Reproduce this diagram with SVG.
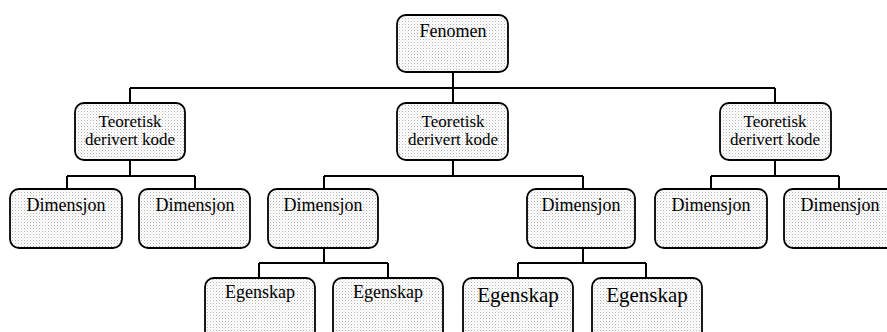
<svg xmlns="http://www.w3.org/2000/svg" width="887" height="332" viewBox="0 0 887 332">
  <defs>
    <!-- stippled grey fill used inside every box -->
    <pattern id="dots" width="3" height="3" patternUnits="userSpaceOnUse">
      <rect width="3" height="3" fill="#ffffff"/>
      <rect x="0" y="0" width="1" height="1" fill="#b4b4b4"/>
      <rect x="1.5" y="1.5" width="1" height="1" fill="#d6d6d6"/>
    </pattern>
  </defs>
  <style>
    .box { fill: url(#dots); stroke: #000; stroke-width: 1.8; }
    .conn { fill: none; stroke: #000; stroke-width: 2; }
    text { font-family: "Times New Roman", "Liberation Serif", "DejaVu Serif", serif; }
  </style>

  <rect width="887" height="332" fill="#ffffff"/>

  <!-- connectors -->
  <g id="connectors" class="conn">
    <path d="M453 72 V88 M130 88 H775 M130 88 V103 M453 88 V103 M775 88 V103"/>
    <path d="M130 160 V176 M67 176 H195 M67 176 V189 M195 176 V189"/>
    <path d="M453 160 V176 M324 176 H583 M324 176 V189 M583 176 V189"/>
    <path d="M775 160 V176 M711 176 H839 M711 176 V189 M839 176 V189"/>
    <path d="M324 248 V263 M259 263 H388 M259 263 V278 M388 263 V278"/>
    <path d="M583 248 V263 M518 263 H646 M518 263 V278 M646 263 V278"/>
  </g>

  <g font-size="18" text-anchor="middle" fill="#000">
    <g id="fenomen">
      <rect class="box" x="397" y="15" width="111" height="57" rx="9"/>
      <text x="453" y="37">Fenomen</text>
    </g>

    <g id="kode-1">
      <rect class="box" x="75" y="103" width="110" height="57" rx="9"/>
      <text x="130" y="127" font-size="17">Teoretisk</text>
      <text x="130" y="145" font-size="17">derivert kode</text>
    </g>
    <g id="kode-2">
      <rect class="box" x="397" y="103" width="111" height="57" rx="9"/>
      <text x="453" y="127" font-size="17">Teoretisk</text>
      <text x="453" y="145" font-size="17">derivert kode</text>
    </g>
    <g id="kode-3">
      <rect class="box" x="720" y="103" width="111" height="57" rx="9"/>
      <text x="775" y="127" font-size="17">Teoretisk</text>
      <text x="775" y="145" font-size="17">derivert kode</text>
    </g>

    <g id="dim-1">
      <rect class="box" x="10" y="189" width="112" height="59" rx="9"/>
      <text x="66" y="211">Dimensjon</text>
    </g>
    <g id="dim-2">
      <rect class="box" x="139" y="189" width="111" height="59" rx="9"/>
      <text x="195" y="211">Dimensjon</text>
    </g>
    <g id="dim-3">
      <rect class="box" x="268" y="189" width="110" height="59" rx="9"/>
      <text x="323" y="211">Dimensjon</text>
    </g>
    <g id="dim-4">
      <rect class="box" x="527" y="189" width="108" height="59" rx="9"/>
      <text x="581" y="211">Dimensjon</text>
    </g>
    <g id="dim-5">
      <rect class="box" x="655" y="189" width="112" height="59" rx="9"/>
      <text x="711" y="211">Dimensjon</text>
    </g>
    <g id="dim-6">
      <rect class="box" x="784" y="189" width="112" height="59" rx="9"/>
      <text x="840" y="211">Dimensjon</text>
    </g>

    <g id="egenskap-1">
      <rect class="box" x="205" y="278" width="110" height="64" rx="9"/>
      <text x="260" y="298">Egenskap</text>
    </g>
    <g id="egenskap-2">
      <rect class="box" x="333" y="278" width="110" height="64" rx="9"/>
      <text x="388" y="298">Egenskap</text>
    </g>
    <g id="egenskap-3">
      <rect class="box" x="463" y="278" width="110" height="64" rx="9"/>
      <text x="518" y="302" font-size="21">Egenskap</text>
    </g>
    <g id="egenskap-4">
      <rect class="box" x="592" y="278" width="110" height="64" rx="9"/>
      <text x="647" y="302" font-size="21">Egenskap</text>
    </g>
  </g>
</svg>
